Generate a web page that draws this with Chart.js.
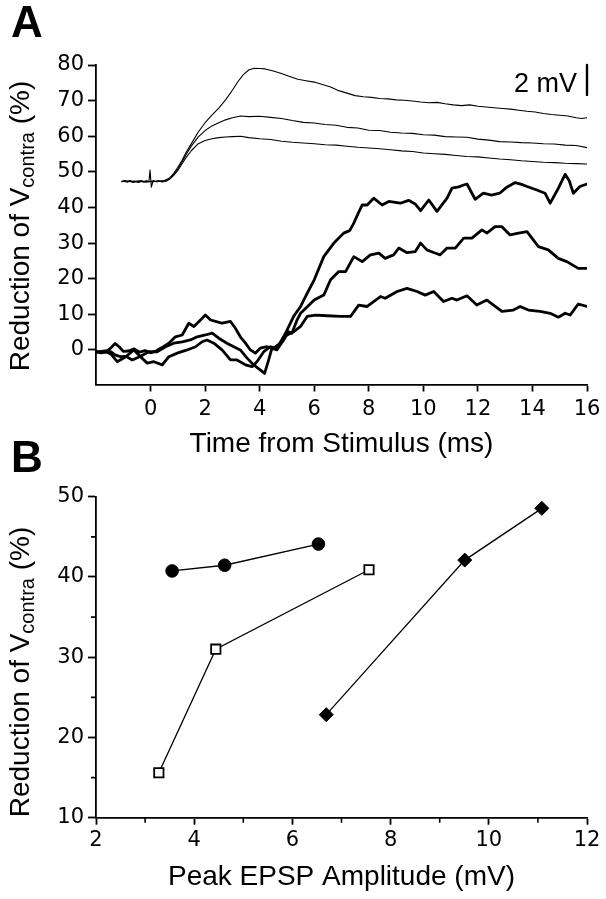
<!DOCTYPE html>
<html>
<head>
<meta charset="utf-8">
<script src="https://cdn.jsdelivr.net/npm/chart.js@4/dist/chart.umd.min.js"></script>
<style>
  html, body { margin:0; padding:0; background:#fff; }
  body { width:606px; height:899px; position:relative; overflow:hidden; font-family:'Liberation Sans', Arial, sans-serif; color:#000; }
  canvas { position:absolute; left:0; }
  .panel { position:absolute; font-weight:bold; font-size:44px; line-height:44px; }
  .ytitle { position:absolute; font-size:28px; line-height:28px; height:28px; white-space:nowrap; transform:translate(-50%,-50%) rotate(-90deg); }
  .ytitle .sub { font-size:20px; position:relative; top:5px; }
  .bar { position:absolute; font-size:27px; line-height:27px; white-space:nowrap; }
</style>
</head>
<body>
<canvas id="ca" width="606" height="470" style="top:0"></canvas>
<canvas id="cb" width="606" height="429" style="top:470px"></canvas>
<div class="panel" style="left:11px;top:0px">A</div>
<div class="panel" style="left:11px;top:435px">B</div>
<div class="ytitle" style="left:20px;top:226px">Reduction of V<span class="sub">contra</span> (%)</div>
<div class="ytitle" style="left:20px;top:672px">Reduction of V<span class="sub">contra</span> (%)</div>
<div class="bar" style="right:29px;top:70px">2 mV</div>
<script>
// ---------- Panel A: tick labels ----------
const timeTicks = [0, 2, 4, 6, 8, 10, 12, 14, 16];
const pctTicksA = [0, 10, 20, 30, 40, 50, 60, 70, 80];

// ---------- Panel A: EPSP traces (thin, upper) [ms, value] ----------
const epspLarge = [[-1.05,47.3],[-0.95,47.6],[-0.85,47.1],[-0.75,47.5],[-0.65,47.0],[-0.55,47.4],[-0.45,47.2],[-0.35,47.6],[-0.25,47.1],[-0.15,47.4],[-0.06,47.2],[-0.02,50.5],[0.03,45.7],[0.1,47.6],[0.2,47.2],[0.3,47.5],[0.4,47.3],[0.5,47.6],[0.6,47.9],[0.7,48.3],[0.85,49.6],[1.0,51.3],[1.15,53.2],[1.3,55.4],[1.5,58.0],[1.75,61.2],[2.0,63.8],[2.25,65.9],[2.5,67.9],[2.75,70.2],[3.0,72.9],[3.2,75.3],[3.4,77.3],[3.6,78.6],[3.8,79.1],[4.0,79.0],[4.2,78.9],[4.5,78.3],[4.8,77.6],[5.1,76.8],[5.4,76.0],[5.7,75.6],[6.0,75.2],[6.3,74.5],[6.6,73.8],[6.9,72.8],[7.2,72.1],[7.5,71.4],[7.8,71.1],[8.1,70.9],[8.4,70.6],[8.7,70.5],[9.0,70.2],[9.3,70.1],[9.6,69.9],[9.9,69.6],[10.2,69.4],[10.5,69.5],[10.8,69.1],[11.1,68.8],[11.4,68.6],[11.7,68.8],[12.0,68.4],[12.3,68.2],[12.6,68.0],[12.9,67.8],[13.2,67.6],[13.5,67.3],[13.8,67.0],[14.1,66.8],[14.4,66.4],[14.7,66.1],[15.0,65.9],[15.3,65.7],[15.6,65.2],[15.8,65.0],[16.0,65.2]];
const epspMedium = [[-1.05,47.4],[-0.9,47.2],[-0.75,47.6],[-0.6,47.1],[-0.45,47.5],[-0.3,47.2],[-0.15,47.5],[-0.06,47.3],[0.1,47.4],[0.25,47.2],[0.4,47.5],[0.55,47.4],[0.7,48.1],[0.85,49.3],[1.0,50.8],[1.15,52.7],[1.3,54.8],[1.5,57.3],[1.75,59.8],[2.0,61.6],[2.25,62.9],[2.5,63.8],[2.75,64.6],[3.0,65.2],[3.3,65.7],[3.6,65.5],[4.0,65.6],[4.4,65.3],[4.8,65.0],[5.2,64.4],[5.6,63.9],[6.0,63.7],[6.4,63.3],[6.8,63.1],[7.2,62.5],[7.6,62.3],[8.0,61.7],[8.4,61.6],[8.8,61.1],[9.2,60.9],[9.6,60.8],[10.0,60.4],[10.4,60.3],[10.8,59.9],[11.2,59.8],[11.6,59.7],[12.0,59.2],[12.4,58.9],[12.8,58.5],[13.2,58.4],[13.6,58.2],[14.0,58.1],[14.4,57.9],[14.8,57.8],[15.2,57.5],[15.6,57.4],[16.0,56.8]];
const epspSmall = [[-1.05,47.2],[-0.9,47.5],[-0.75,47.2],[-0.6,47.4],[-0.45,47.0],[-0.3,47.4],[-0.15,47.1],[-0.06,47.3],[0.1,47.2],[0.25,47.5],[0.4,47.2],[0.55,47.3],[0.7,47.9],[0.85,49.0],[1.0,50.4],[1.15,52.2],[1.3,54.0],[1.5,56.0],[1.75,57.9],[2.0,58.8],[2.25,59.3],[2.5,59.6],[2.75,59.8],[3.0,59.9],[3.3,60.0],[3.6,59.6],[4.0,59.3],[4.4,59.1],[4.8,58.6],[5.2,58.3],[5.6,58.1],[6.0,57.9],[6.4,57.6],[6.8,57.5],[7.2,57.2],[7.6,56.9],[8.0,56.7],[8.4,56.5],[8.8,56.2],[9.2,55.9],[9.6,55.7],[10.0,55.3],[10.4,55.1],[10.8,54.9],[11.2,54.6],[11.6,54.3],[12.0,54.2],[12.4,53.9],[12.8,53.6],[13.2,53.4],[13.6,53.1],[14.0,52.9],[14.4,52.7],[14.8,52.6],[15.2,52.4],[15.6,52.3],[16.0,52.2]];

// ---------- Panel A: reduction of Vcontra (thick, lower) [ms, %] ----------
const reductionHigh = [[-2.0,-0.5],[-1.8,-0.8],[-1.6,-0.3],[-1.45,0.6],[-1.3,1.8],[-1.15,0.9],[-1.0,-0.4],[-0.8,-0.3],[-0.6,0.3],[-0.4,-0.6],[-0.2,-0.2],[0.0,-0.8],[0.2,-0.3],[0.4,0.6],[0.67,1.9],[0.91,3.7],[1.16,4.2],[1.4,7.5],[1.59,6.6],[1.83,8.4],[2.01,9.8],[2.2,8.4],[2.38,8.0],[2.62,7.5],[2.93,8.0],[3.11,6.1],[3.29,3.7],[3.48,1.9],[3.66,0.0],[3.84,-0.9],[4.02,0.5],[4.27,0.9],[4.51,0.5],[4.76,1.9],[5.0,5.5],[5.25,9.5],[5.5,12.2],[5.75,16.0],[6.0,19.7],[6.35,26.2],[6.72,30.0],[7.08,32.8],[7.3,33.5],[7.45,35.6],[7.62,38.5],[7.76,40.7],[7.94,40.7],[8.18,42.6],[8.49,40.7],[8.73,41.7],[9.16,41.2],[9.46,42.0],[9.7,41.0],[9.9,39.1],[10.2,42.1],[10.5,38.9],[10.87,42.6],[11.05,45.4],[11.3,45.8],[11.48,46.3],[11.6,46.6],[11.9,42.3],[12.2,44.0],[12.5,43.5],[12.8,44.0],[13.06,45.7],[13.37,47.0],[13.6,46.5],[13.8,45.9],[14.16,44.9],[14.46,44.0],[14.65,41.2],[14.95,45.4],[15.2,49.3],[15.35,47.5],[15.5,44.0],[15.74,45.9],[16.0,46.6]];
const reductionMid = [[-2.0,-0.6],[-1.8,-0.4],[-1.6,-0.2],[-1.45,-0.5],[-1.3,-1.4],[-1.1,-1.9],[-0.9,-1.8],[-0.67,-2.8],[-0.4,-1.9],[-0.06,-0.5],[0.24,-0.5],[0.55,0.9],[0.85,1.9],[1.16,2.3],[1.46,2.8],[1.71,3.7],[2.01,4.2],[2.26,4.7],[2.5,3.3],[2.8,1.9],[3.05,0.9],[3.29,0.0],[3.54,-2.3],[3.78,-4.2],[4.02,-5.6],[4.18,-6.6],[4.33,-2.8],[4.45,0.5],[4.63,0.0],[4.88,2.8],[5.06,5.1],[5.18,4.7],[5.37,8.4],[5.5,10.3],[6.0,14.0],[6.35,15.4],[6.6,19.7],[6.9,22.0],[7.15,22.0],[7.45,26.2],[7.76,24.8],[8.06,26.7],[8.37,27.2],[8.6,25.7],[8.91,26.7],[9.1,28.6],[9.4,27.3],[9.7,27.6],[9.9,30.0],[10.13,28.1],[10.4,27.3],[10.62,26.7],[10.87,28.6],[11.17,28.6],[11.48,31.4],[11.78,31.4],[12.15,33.7],[12.33,32.8],[12.63,34.6],[12.88,34.6],[13.18,32.3],[13.49,32.8],[13.8,33.2],[14.22,29.0],[14.58,28.1],[14.95,25.7],[15.26,24.8],[15.68,22.9],[16.0,22.9]];
const reductionLow = [[-2.0,-0.4],[-1.8,-0.7],[-1.6,-0.6],[-1.45,-1.2],[-1.22,-3.3],[-0.91,-1.9],[-0.61,0.0],[-0.37,-1.9],[-0.12,-3.7],[0.12,-3.3],[0.43,-4.2],[0.67,-1.9],[0.98,-0.9],[1.34,0.0],[1.65,0.9],[1.89,2.3],[2.07,2.8],[2.32,1.9],[2.62,0.0],[2.93,-2.8],[3.17,-2.8],[3.48,-4.2],[3.72,-4.7],[3.9,-3.3],[4.15,-0.5],[4.39,0.9],[4.63,0.5],[4.88,3.7],[5.24,5.1],[5.5,6.6],[5.74,9.4],[6.05,9.8],[6.48,9.6],[6.96,9.4],[7.33,9.4],[7.63,12.6],[7.94,12.2],[8.43,15.0],[8.6,14.5],[9.04,16.4],[9.4,17.3],[9.77,16.4],[10.07,15.4],[10.38,16.4],[10.74,13.6],[11.05,14.5],[11.23,14.0],[11.6,15.2],[11.96,12.6],[12.33,14.0],[12.88,10.8],[13.3,11.2],[13.55,12.2],[13.85,11.2],[14.28,10.8],[14.65,10.3],[14.95,9.2],[15.2,10.3],[15.38,9.8],[15.68,12.9],[16.0,12.2]];

// 2 mV calibration bar (in axis units)
const scaleBar = [[16, 80], [16, 71.6]];

// ---------- Panel B ----------
const ampTicks = [2, 4, 6, 8, 10, 12];
const ampMinor = [3, 5, 7, 9, 11];
const pctTicksB = [10, 20, 30, 40, 50];
const pctMinorB = [15, 25, 35, 45];

const epspCircle = [3.55, 4.62, 6.53];
const reductionCircle = [40.75, 41.46, 44.1];
const epspSquare = [3.28, 4.44, 7.56];
const reductionSquare = [15.6, 31.0, 40.9];
const epspDiamond = [6.69, 9.51, 11.08];
const reductionDiamond = [22.84, 42.1, 48.55];

// ---------- helpers ----------
Chart.defaults.font.family = "'Liberation Sans', Arial, sans-serif";
Chart.defaults.color = '#000';
const tickFont = {family: "'DejaVu Sans', sans-serif", size: 21};
const pairs = arr => arr.map(p => ({x: p[0], y: p[1]}));
const zip = (xs, ys) => xs.map((x, i) => ({x: x, y: ys[i]}));
const fixedTicks = list => (s => { s.ticks = list.map(v => ({value: v})); });
const tickGrid = len => ({display: true, drawOnChartArea: false, drawTicks: true, tickLength: len, tickColor: '#000', tickWidth: 1.8});

function axis(opts) {
  return Object.assign({
    type: 'linear',
    grid: tickGrid(8),
    border: {display: true, color: '#000', width: 1.8},
  }, opts);
}

function trace(data, width) {
  return {data: pairs(data), showLine: true, borderColor: '#000', borderWidth: width,
    pointRadius: 0, pointHoverRadius: 0, tension: 0, borderJoinStyle: 'round', borderCapStyle: 'round'};
}

// ---------- Chart A ----------
new Chart(document.getElementById('ca'), {
  type: 'scatter',
  data: {
    datasets: [
      trace(epspLarge, 1.1), trace(epspMedium, 1.1), trace(epspSmall, 1.1),
      trace(reductionHigh, 2.8), trace(reductionMid, 2.8), trace(reductionLow, 2.8),
      Object.assign(trace(scaleBar, 2.4), {clip: false, borderCapStyle: 'butt'})
    ]
  },
  options: {
    responsive: false, animation: false, devicePixelRatio: 1,
    layout: {padding: {left: 0, right: 19, top: 65, bottom: 0}},
    plugins: {legend: {display: false}, tooltip: {enabled: false}},
    scales: {
      x: axis({min: -2, max: 16, afterBuildTicks: fixedTicks(timeTicks),
        afterFit: s => { s.height = 85.5; },
        grid: tickGrid(7),
        ticks: {font: tickFont, padding: 5.5, maxRotation: 0, autoSkip: false, color: '#000'},
        title: {display: true, text: 'Time from Stimulus (ms)', color: '#000', font: {size: 28}, padding: {top: 0, bottom: 8.5}}}),
      y: axis({min: -9.7, max: 80, afterBuildTicks: fixedTicks(pctTicksA),
        afterFit: s => { s.width = 96; },
        ticks: {font: tickFont, padding: 4, autoSkip: false, color: '#000'}})
    }
  }
});

// ---------- Chart B ----------
const minorTickPlugin = {
  id: 'minorTicks',
  afterDraw(chart) {
    const ctx = chart.ctx, xs = chart.scales.x, ys = chart.scales.y;
    ctx.save();
    ctx.strokeStyle = '#000';
    ctx.lineWidth = 1.6;
    ctx.beginPath();
    ampMinor.forEach(v => { const px = xs.getPixelForValue(v); ctx.moveTo(px, xs.top); ctx.lineTo(px, xs.top + 5); });
    pctMinorB.forEach(v => { const py = ys.getPixelForValue(v); ctx.moveTo(ys.right - 5, py); ctx.lineTo(ys.right, py); });
    ctx.stroke();
    ctx.restore();
  }
};

function series(xs, ys, style, radius, fill, bw) {
  return {data: zip(xs, ys), showLine: true, borderColor: '#000', borderWidth: 1.3,
    pointStyle: style, pointRadius: radius, pointHoverRadius: radius,
    pointBackgroundColor: fill, pointBorderColor: '#000', pointBorderWidth: bw, tension: 0};
}

new Chart(document.getElementById('cb'), {
  type: 'scatter',
  data: {
    datasets: [
      series(epspCircle, reductionCircle, 'circle', 6.3, '#000', 1),
      series(epspSquare, reductionSquare, 'rect', 6.6, '#fff', 1.8),
      series(epspDiamond, reductionDiamond, 'rectRot', 7, '#000', 1)
    ]
  },
  plugins: [minorTickPlugin],
  options: {
    responsive: false, animation: false, devicePixelRatio: 1,
    layout: {padding: {left: 0, right: 19, top: 26.7, bottom: 0}},
    plugins: {legend: {display: false}, tooltip: {enabled: false}},
    scales: {
      x: axis({min: 2, max: 12, afterBuildTicks: fixedTicks(ampTicks),
        afterFit: s => { s.height = 81.3; },
        grid: tickGrid(7),
        ticks: {font: tickFont, padding: 3, maxRotation: 0, autoSkip: false, color: '#000'},
        title: {display: true, text: 'Peak EPSP Amplitude (mV)', color: '#000', font: {size: 28}, padding: {top: 0, bottom: 4.7}}}),
      y: axis({min: 10, max: 50, afterBuildTicks: fixedTicks(pctTicksB),
        afterFit: s => { s.width = 96; },
        ticks: {font: tickFont, padding: 4, autoSkip: false, color: '#000'}})
    }
  }
});
</script>
</body>
</html>
